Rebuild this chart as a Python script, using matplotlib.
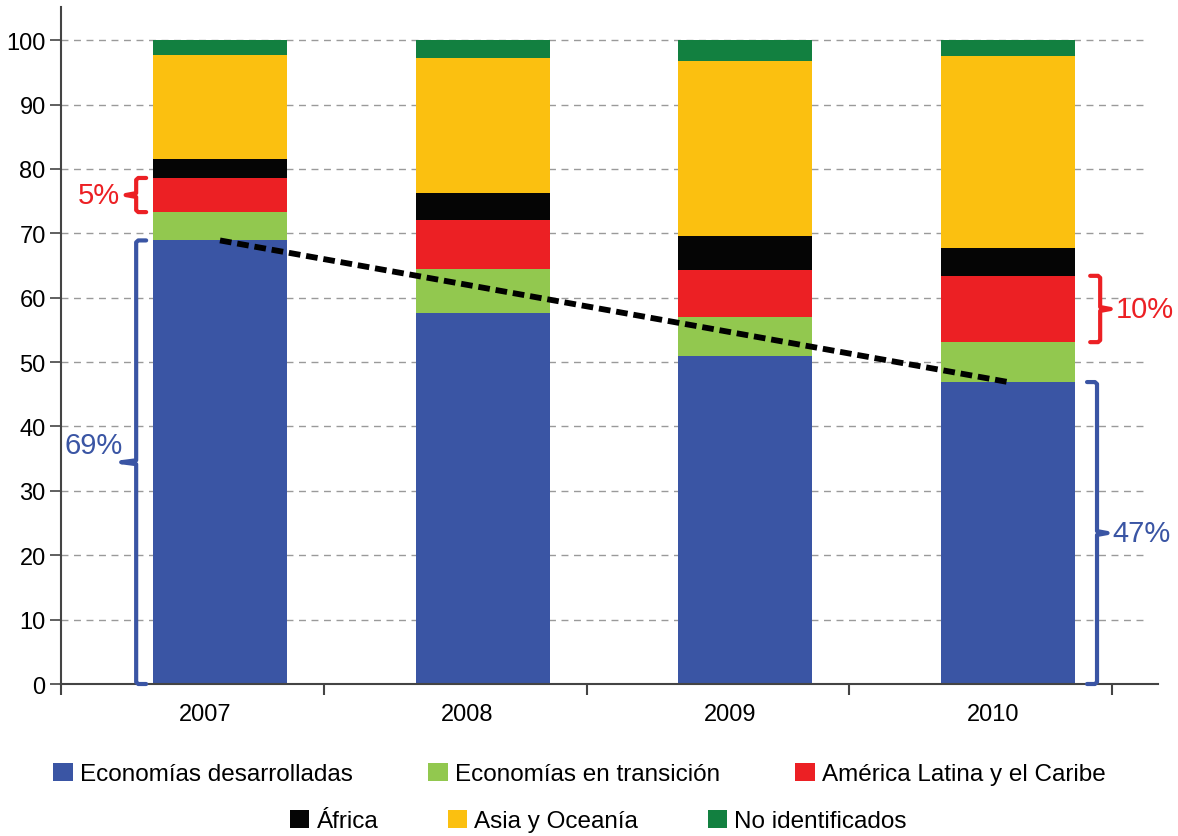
import matplotlib
matplotlib.use("Agg")
import matplotlib.pyplot as plt
from matplotlib.patches import Patch
import numpy as np

plt.rcParams['font.family'] = ['Liberation Sans', 'DejaVu Sans']

years = ['2007', '2008', '2009', '2010']
series = ['Economías desarrolladas', 'Economías en transición', 'América Latina y el Caribe',
          'África', 'Asia y Oceanía', 'No identificados']
colors = ['#3A55A4', '#92C84F', '#EC2024', '#050505', '#FBC010', '#128040']

# shares in percent, one list per region
desarrolladas = [68.9, 57.7, 50.9, 46.9]
transicion = [4.4, 6.8, 6.1, 6.2]
america_latina = [5.3, 7.5, 7.3, 10.3]
africa = [2.9, 4.2, 5.3, 4.4]
asia_oceania = [16.2, 21.0, 27.1, 29.8]
no_ident = [2.3, 2.8, 3.3, 2.4]

values = [desarrolladas, transicion, america_latina, africa, asia_oceania, no_ident]

fig = plt.figure(figsize=(11.78, 8.37), dpi=100)
ax = fig.add_axes([0.0518, 0.1816, 0.983 - 0.0518, 0.99 - 0.1816])

x = np.arange(len(years))
bottom = np.zeros(len(years))
for vals, col in zip(values, colors):
    ax.bar(x, vals, 0.51, bottom=bottom, color=col, zorder=2)
    bottom += np.array(vals)

# dashed grid, stops a bit before the end of the x axis
ax.hlines(np.arange(10, 101, 10), -0.605, 3.52, colors='#9a9a9a', lw=1,
          linestyles=(0, (5, 4)), zorder=1)

# trend line between the developed-economy shares
ax.plot([x[0], x[-1]], [desarrolladas[0], desarrolladas[-1]], color='black', lw=4.2,
        ls=(0, (2.0, 1.0)), zorder=3)


def brace(xv, y0, y1, side, color, label, hook=0.038, notch=0.04, dy=0.0, tx=None):
    # side = -1: text on the left, open toward the bar on the right
    ym = (y0 + y1) / 2.0
    xs = [xv - side * hook, xv - side * 0.008, xv, xv, xv + side * notch, xv, xv,
          xv - side * 0.008, xv - side * hook]
    ys = [y1, y1, y1 - 0.3, ym + 0.3, ym, ym - 0.3, y0 + 0.3, y0, y0]
    ax.plot(xs, ys, color=color, lw=3, solid_joinstyle='round', solid_capstyle='round',
            zorder=3, clip_on=False)
    ha = 'right' if side < 0 else 'left'
    if tx is None:
        tx = xv + side * (notch + 0.02)
    ax.text(tx, ym + dy, label, color=color, fontsize=21, ha=ha, va='center')


brace(-0.319, 0, desarrolladas[0], -1, '#3A55A4', '69%', notch=0.057, dy=2.6, tx=-0.37)
brace(-0.319, desarrolladas[0] + transicion[0], desarrolladas[0] + transicion[0] + america_latina[0],
      -1, '#EC2024', '5%')
lat_lo = desarrolladas[3] + transicion[3]
brace(3.35, lat_lo, lat_lo + america_latina[3], 1, '#EC2024', '10%')
brace(3.338, 0, desarrolladas[3], 1, '#3A55A4', '47%')

ax.set_xlim(-0.605, 3.57)
ax.set_ylim(0, 105.1)
ax.set_yticks(np.arange(0, 101, 10))
ax.set_xticks(x - 0.058)
ax.set_xticklabels(years)
ax.set_xticks(np.concatenate([[-0.605], np.arange(4) + 0.395]), minor=True)
ax.tick_params(axis='x', which='major', length=0, pad=14, labelsize=17)
ax.tick_params(axis='x', which='minor', length=8, width=1.5, color='#444444', direction='out')
ax.tick_params(axis='y', length=8, width=1.2, color='#444444', labelsize=17, pad=3)

for s in ['top', 'right']:
    ax.spines[s].set_visible(False)
ax.spines['left'].set_color('#444444')
ax.spines['left'].set_linewidth(1.5)
ax.spines['bottom'].set_color('#444444')
ax.spines['bottom'].set_linewidth(1.5)

handles = [Patch(facecolor=c, edgecolor='none') for c in colors]
fig.legend(handles[:3], series[:3], loc='center', bbox_to_anchor=(0.492, 0.074), ncol=3,
           frameon=False, fontsize=17.5, handlelength=0.8, handleheight=0.8,
           handletextpad=0.3, columnspacing=3.1)
fig.legend(handles[3:], series[3:], loc='center', bbox_to_anchor=(0.508, 0.018), ncol=3,
           frameon=False, fontsize=17.5, handlelength=0.8, handleheight=0.8,
           handletextpad=0.3, columnspacing=2.85)

fig.savefig('out.png', dpi=100)
